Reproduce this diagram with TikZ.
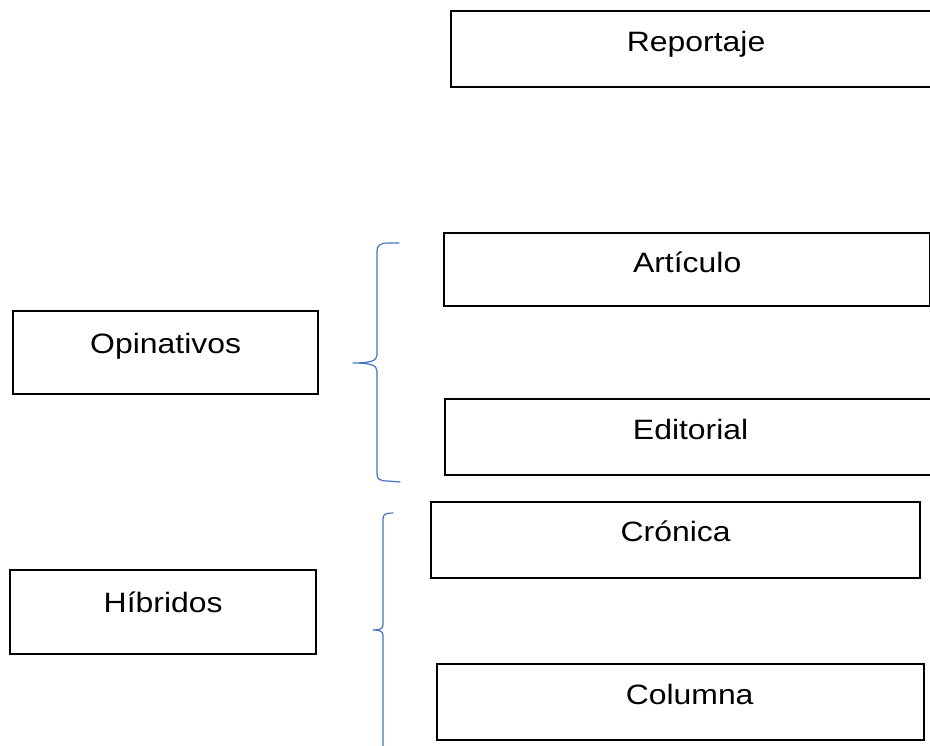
\documentclass[tikz,border=0pt]{standalone}
\usepackage{fontspec}
\setmainfont{Liberation Sans}[FakeStretch=1.14]
\definecolor{braceblue}{HTML}{4472C4}
\begin{document}
\begin{tikzpicture}[x=1pt,y=-1pt,
  box/.style={draw=black,line width=2.3pt,rectangle,anchor=north west,inner sep=0pt},
  lbl/.style={anchor=base,inner sep=0pt,font=\fontsize{28}{32}\selectfont},
  brace/.style={draw=braceblue,line width=1.2pt,line join=round,line cap=round}]
\useasboundingbox (0,0) rectangle (930,746);
\clip (0,0) rectangle (930,746);
\fill[white] (0,0) rectangle (930,746);
% boxes
\node[box,minimum width=490pt,minimum height=76pt] (rep) at (450,10) {};
\node[box,minimum width=486pt,minimum height=73pt] (art) at (443,232) {};
\node[box,minimum width=305pt,minimum height=83pt] (opi) at (12,310) {};
\node[box,minimum width=491pt,minimum height=76pt] (edi) at (444,398) {};
\node[box,minimum width=489pt,minimum height=76pt] (cro) at (430,501) {};
\node[box,minimum width=306pt,minimum height=84pt] (hib) at (9,569) {};
\node[box,minimum width=487pt,minimum height=76pt] (col) at (436,663) {};
% labels
\node[lbl] (repT) at ([yshift=-42pt]rep.north) {Reportaje};
\node[lbl] (artT) at ([yshift=-41pt]art.north) {Artículo};
\node[lbl] (opiT) at ([yshift=-43pt]opi.north) {Opinativos};
\node[lbl] (ediT) at ([yshift=-41pt]edi.north) {Editorial};
\node[lbl] (croT) at ([yshift=-40pt]cro.north) {Crónica};
\node[lbl] (hibT) at ([yshift=-43pt]hib.north) {Híbridos};
\node[lbl] (colT) at ([xshift=9pt,yshift=-41pt]col.north) {Columna};
% braces
\coordinate (b1top) at (399,243);
\coordinate (b1tip) at (353,363);
\coordinate (b1bot) at (400,482);
\draw[brace] (b1top) -- (388,243) .. controls (379,243) and (377,246) .. (377,252)
  -- (377,355) .. controls (377,361) and (370,363) .. (b1tip)
  .. controls (370,363) and (377,365) .. (377,371)
  -- (377,473) .. controls (377,479) and (379,481) .. (388,481) -- (b1bot);
\coordinate (b2top) at (393,513);
\coordinate (b2tip) at (373,630);
\coordinate (b2bot) at (383,760);
\draw[brace] (b2top) .. controls (386,513) and (383,514) .. (383,519)
  -- (383,625) .. controls (383,629) and (379,630) .. (b2tip)
  .. controls (379,630) and (383,631) .. (383,635)
  -- (b2bot);
\end{tikzpicture}
\end{document}
